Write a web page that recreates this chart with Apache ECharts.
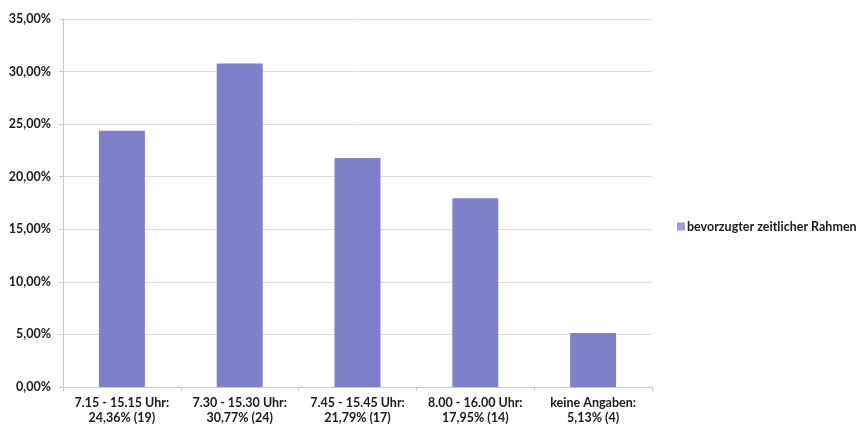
<!DOCTYPE html>
<html>
<head>
<meta charset="utf-8">
<script src="https://cdn.jsdelivr.net/npm/echarts@6/dist/echarts.min.js"></script>
<style>
  html, body { margin: 0; padding: 0; background: #ffffff; }
  #chart { width: 856px; height: 432px; }
</style>
</head>
<body>
<div id="chart"></div>
<script>
// Time slots with share and count
const categories = [
  '7.15 - 15.15 Uhr:\n24,36% (19)',
  '7.30 - 15.30 Uhr:\n30,77% (24)',
  '7.45 - 15.45 Uhr:\n21,79% (17)',
  '8.00 - 16.00 Uhr:\n17,95% (14)',
  'keine Angaben:\n5,13% (4)'
];
const shares = [24.36, 30.77, 21.79, 17.95, 5.13];
const seriesName = 'bevorzugter zeitlicher Rahmen';

const font = 'Lato, "Open Sans", sans-serif';
const chart = echarts.init(document.getElementById('chart'), null, { renderer: 'canvas' });

chart.setOption({
  animation: false,
  backgroundColor: '#ffffff',
  textStyle: { fontFamily: font },
  legend: {
    data: [{ name: seriesName, itemStyle: { color: '#9c99de' } }],
    left: 672,
    top: 215,
    orient: 'vertical',
    itemWidth: 8,
    itemHeight: 8,
    itemGap: 4,
    icon: 'rect',
    textStyle: { fontFamily: font, fontSize: 12.5, fontWeight: 'bold', color: '#1a1a1a', padding: [0, 0, 0, -3] }
  },
  grid: { left: 63, right: 204, top: 19, bottom: 45 },
  xAxis: {
    type: 'category',
    data: categories,
    axisLine: { lineStyle: { color: '#c8c8c8', width: 1 } },
    axisTick: { show: true, length: 4, lineStyle: { color: '#c8c8c8' } },
    axisLabel: {
      fontFamily: font, fontSize: 12.5, fontWeight: 'bold', color: '#1a1a1a',
      lineHeight: 15, margin: 8, interval: 0
    }
  },
  yAxis: {
    type: 'value',
    min: 0, max: 35, interval: 5,
    axisLine: { show: true, lineStyle: { color: '#c8c8c8' } },
    axisTick: { show: true, length: 4, lineStyle: { color: '#c8c8c8' } },
    splitLine: { lineStyle: { color: '#dcdcdc', width: 1 } },
    axisLabel: {
      fontFamily: font, fontSize: 12.5, fontWeight: 'bold', color: '#1a1a1a', margin: 12,
      formatter: v => v.toFixed(2).replace('.', ',') + '%'
    }
  },
  series: [{
    name: seriesName,
    type: 'bar',
    data: shares,
    barWidth: 46,
    itemStyle: { color: '#7f80cc' }
  }]
});
</script>
</body>
</html>
